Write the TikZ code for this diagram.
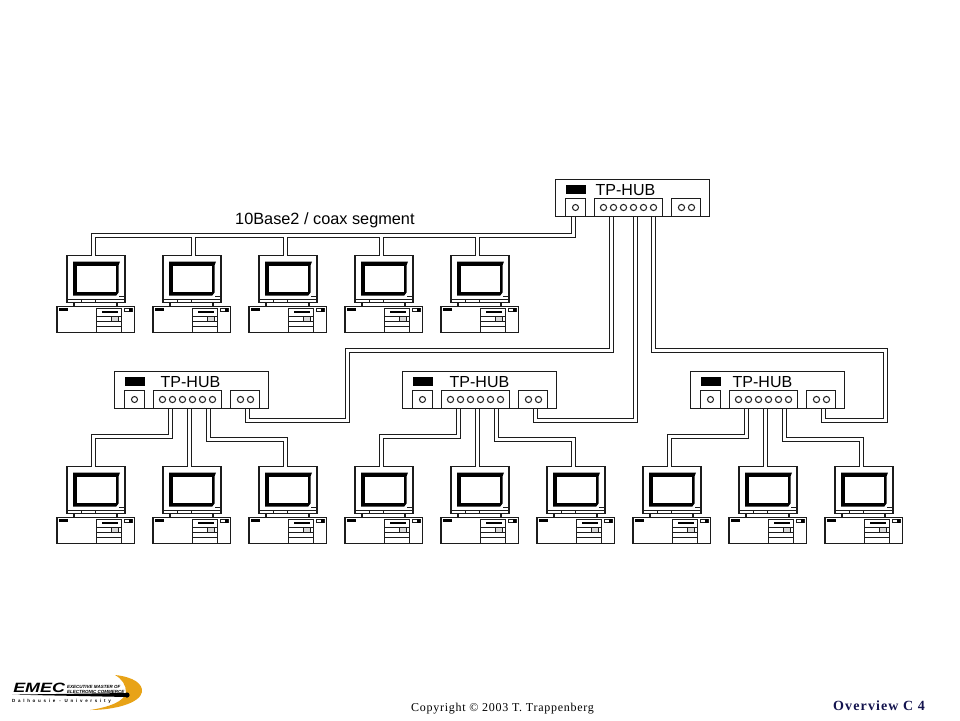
\documentclass[tikz,border=0pt]{standalone}
\usepackage{fontspec}
\setmainfont{Liberation Serif}
\setsansfont{Liberation Sans}
\definecolor{emecorange}{HTML}{E8A317}
\definecolor{inkgray}{HTML}{1C1C1C}
\definecolor{footnavy}{HTML}{14144E}
\tikzset{
    gear/.style={draw=inkgray,line width=1.5pt},
    cable/.style={draw=inkgray,line width=1.4pt,double=white,double distance=2.6pt},
    jack/.style={draw=inkgray,line width=1pt},
    txt/.style={inner sep=0pt,anchor=base west,text=black},
    pics/hub/.style={code={
        \draw[gear,fill=white] (0,0) rectangle (154,37);
        \fill[black] (10,5) rectangle (30,14);
        \draw[gear] (10,37) -- (10,19) -- (30,19) -- (30,37);
        \draw[gear] (39,37) -- (39,19) -- (107,19) -- (107,37);
        \draw[gear] (116,37) -- (116,19) -- (145,19) -- (145,37);
        \node[txt,font=\sffamily\fontsize{16}{16}\selectfont] (-label) at (#1,15.5) {TP-HUB};
        \draw[jack] (20,28) circle (3);
        \foreach \cx in {48,58,68,78,88,98}
            \draw[jack] (\cx,28) circle (3.1);
        \draw[jack] (126,28) circle (3.1);
        \draw[jack] (136,28) circle (3.1);
        \coordinate (-coax) at (18,37);
        \coordinate (-a) at (56,37);
        \coordinate (-b) at (75,37);
        \coordinate (-c) at (94,37);
        \coordinate (-up) at (133,37);
        \coordinate (-ltn) at (-21,65);
        \coordinate (-rtn) at (171,68);
    }},
    computer/.pic={
        % monitor
        \draw[gear] (9.5,0) rectangle (67.5,47);
        \fill[black] (15.5,6) -- (62.5,6) -- (61,10) -- (61,37) -- (58.8,40) -- (15.5,40) -- cycle;
        \fill[white] (19.8,10.5) rectangle (58.8,36.8);
        \draw[gear] (9.5,44) -- (67.5,44);
        \draw[jack] (61.5,40.5) -- (66,40.5);
        \foreach \tx in {24,38}
            \draw[jack] (\tx,44) -- (\tx,47);
        \foreach \tx in {16.5,59.5}
            \draw[gear] (\tx,47) -- (\tx,51);
        % base unit
        \draw[gear] (-0.5,51) rectangle (77,77);
        \fill[black] (1.5,52.8) rectangle (10,55.8);
        \draw[jack] (39,53) rectangle (64,77);
        \fill[black] (44,55.5) rectangle (60.5,57.5);
        \draw[jack] (39,61.2) -- (64,61.2);
        \draw[jack] (39,66.2) -- (64,66.2);
        \draw[jack] (39,71.2) -- (64,71.2);
        \draw[gear,fill=black!15] (54,61.2) rectangle (61,66.2);
        \draw[jack] (67.2,52.5) rectangle (74.5,56.2);
        \fill[black] (71,52.5) rectangle (74.5,56.2);
        \coordinate (-in) at (36,0);
    }
}
\begin{document}
\begin{tikzpicture}[x=1pt,y=-1pt]
    \useasboundingbox (0,0) rectangle (960,720);
    \foreach \n/\px in {1/57.5,2/153.5,3/249.5,4/345.5,5/441.5}
        \pic (pc\n) at (\px,255.5) {computer};
    \foreach \n/\px in {6/57.5,7/153.5,8/249.5,9/345.5,10/441.5,11/537.5,12/633.5,13/729.5,14/825.5}
        \pic (pc\n) at (\px,466.5) {computer};
    \pic (top) at (555.5,179.5) {hub=40};
    \pic (hubl) at (114.5,371.5) {hub=46};
    \pic (hubm) at (402.5,371.5) {hub=47};
    \pic (hubr) at (690.5,371.5) {hub=42};

    \node[txt,font=\sffamily\fontsize{16.3}{16.3}\selectfont] (coaxlabel) at (235,224.5) {10Base2 / coax segment};

    % turning points of the cables
    \coordinate (bus) at (400.5,235.5);
    \coordinate (jogla) at (347.5,350.5);
    \coordinate (joglb) at (347.5,420.5);
    \coordinate (jogm) at (635.5,420.5);
    \coordinate (jogra) at (885.5,350.5);
    \coordinate (jogrb) at (885.5,420.5);

    \draw[cable] (top-coax) |- (bus) -| (pc1-in)
        ([xshift=4pt]pc2-in |- bus) -- ([xshift=4pt]pc2-in)
        (pc3-in |- bus) -- (pc3-in)
        (pc4-in |- bus) -- (pc4-in)
        (pc5-in |- bus) -- (pc5-in);
    \draw[cable] (top-a) |- (jogla) -- (joglb) -| (hubl-up);
    \draw[cable] ([xshift=5pt]top-b) -- (jogm) -| (hubm-up);
    \draw[cable] ([xshift=4pt]top-c) |- (jogra) -- (jogrb) -| (hubr-up);

    \draw[cable] (hubl-a) |- (hubl-ltn) -- (pc6-in);
    \draw[cable] (hubl-b) -- (pc7-in);
    \draw[cable] (hubl-c) |- (hubl-rtn) -- (pc8-in);
    \draw[cable] (hubm-a) |- (hubm-ltn) -- (pc9-in);
    \draw[cable] (hubm-b) -- (pc10-in);
    \draw[cable] (hubm-c) |- (hubm-rtn) -- (pc11-in);
    \draw[cable] (hubr-a) |- (hubr-ltn) -- (pc12-in);
    \draw[cable] (hubr-b) -- (pc13-in);
    \draw[cable] (hubr-c) |- (hubr-rtn) -- (pc14-in);

    % logo and footer
    \fill[emecorange] (115,675) .. controls (134,677) and (143,684) .. (142,692)
        .. controls (140,703) and (115,710) .. (90,710)
        .. controls (110,707) and (125,701) .. (126,692)
        .. controls (126,685) and (122,679) .. (115,675);
    \fill[black] (12,694.6) -- (127,693) -- (127,697) -- cycle;
    \fill[black] (127,695) circle (2.6);
    \node[txt,font=\sffamily\bfseries\itshape\fontsize{13.5}{13.5}\selectfont,xscale=1.33] (emec) at (13,692.5) {EMEC};
    \node[txt,font=\sffamily\bfseries\itshape\fontsize{4.5}{4.5}\selectfont] (emeca) at (67,688) {EXECUTIVE MASTER OF};
    \node[txt,font=\sffamily\bfseries\itshape\fontsize{4.5}{4.5}\selectfont] (emecb) at (67,693) {ELECTRONIC COMMERCE};
    \node[txt,font=\sffamily\bfseries\fontsize{4.5}{4.5}\selectfont\addfontfeature{LetterSpace=60}] (emecc) at (12,702) {Dalhousie - University};

    \node[txt,font=\fontsize{12}{12}\selectfont\addfontfeature{LetterSpace=6}] (copyright) at (411,711) {Copyright © 2003 T. Trappenberg};
    \node[txt,text=footnavy,font=\bfseries\fontsize{14}{14}\selectfont\addfontfeature{LetterSpace=8}] (overview) at (833,710) {Overview C 4};
\end{tikzpicture}
\end{document}
